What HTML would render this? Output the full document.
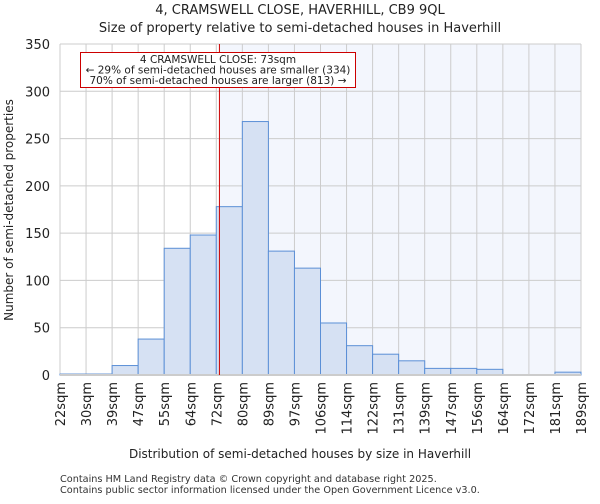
<!DOCTYPE html>
<html><head><meta charset="utf-8"><style>
body{margin:0;background:#fff;font-family:"DejaVu Sans","Liberation Sans",sans-serif;}
</style></head><body>
<svg id="c" width="600" height="500" xmlns="http://www.w3.org/2000/svg" font-family="DejaVu Sans, Liberation Sans, sans-serif">
<text x="300" y="14" text-anchor="middle" font-size="13" fill="#222">4, CRAMSWELL CLOSE, HAVERHILL, CB9 9QL</text>
<text x="300" y="32" text-anchor="middle" font-size="13" fill="#222">Size of property relative to semi-detached houses in Haverhill</text>
<g id="plot"></g>
<text x="300" y="458" text-anchor="middle" font-size="12" fill="#222">Distribution of semi-detached houses by size in Haverhill</text>
<text transform="translate(13,210) rotate(-90)" text-anchor="middle" font-size="12" fill="#222">Number of semi-detached properties</text>
<text x="60" y="482" font-size="9.7" fill="#333">Contains HM Land Registry data © Crown copyright and database right 2025.</text>
<text x="60" y="493" font-size="9.7" fill="#333">Contains public sector information licensed under the Open Government Licence v3.0.</text>
</svg>
<script>
const labels=["22sqm","30sqm","39sqm","47sqm","55sqm","64sqm","72sqm","80sqm","89sqm","97sqm","106sqm","114sqm","122sqm","131sqm","139sqm","147sqm","156sqm","164sqm","172sqm","181sqm","189sqm"];
const counts=[1,1,10,38,134,148,178,268,131,113,55,31,22,15,7,7,6,0,0,3];
const yTicks=[0,50,100,150,200,250,300,350];
const markerBin=6.12;
const NS="http://www.w3.org/2000/svg";
const L=60,R=581,T=44,B=375,yMax=350;
const bw=(R-L)/counts.length;
const xs=i=>L+i*bw;
const ys=v=>B-(v/yMax)*(B-T);
const g=document.getElementById('plot');
function mk(t,a){const e=document.createElementNS(NS,t);for(const k in a)e.setAttribute(k,a[k]);g.appendChild(e);return e;}
const mx=xs(markerBin);
let e=mk('rect',{x:mx,y:T,width:R-mx,height:B-T,fill:'#f3f6fd'});


for(let i=0;i<labels.length;i++){
 e=mk('line',{x1:xs(i),x2:xs(i),y1:T,y2:B,stroke:'#cccccc','stroke-width':1});
 
 
}
yTicks.forEach(v=>{
 e=mk('line',{x1:L,x2:R,y1:ys(v),y2:ys(v),stroke:'#cccccc','stroke-width':1});
 
 
 e=mk('text',{x:L-10,y:ys(v)+5,'text-anchor':'end','font-size':13,fill:'#222'});
 e.textContent=v;
 
 
});
counts.forEach((v,i)=>{
 e=mk('rect',{x:xs(i),y:ys(v),width:bw,height:B-ys(v),fill:'#d6e1f3',stroke:'#5b8fd6','stroke-width':1});
 
 
});
labels.forEach((l,i)=>{
 e=mk('text',{transform:`translate(${xs(i)+5},382) rotate(-90)`,'text-anchor':'end','font-size':13,fill:'#222'});
 e.textContent=l;
 
 
});
e=mk('line',{x1:L,x2:R,y1:B,y2:B,stroke:'#cccccc','stroke-width':2});


e=mk('line',{x1:mx,x2:mx,y1:T,y2:B,stroke:'#cc0000','stroke-width':1});


e=mk('rect',{x:80.5,y:52.5,width:275,height:35,fill:'#fff',stroke:'#cc0000','stroke-width':1});


const ann=["4 CRAMSWELL CLOSE: 73sqm","← 29% of semi-detached houses are smaller (334)","70% of semi-detached houses are larger (813) →"];
ann.forEach((t,i)=>{
 e=mk('text',{x:218,y:63+i*10.5,'text-anchor':'middle','font-size':10.5,fill:'#222'});
 e.textContent=t;
 
 
});
</script>
</body></html>
